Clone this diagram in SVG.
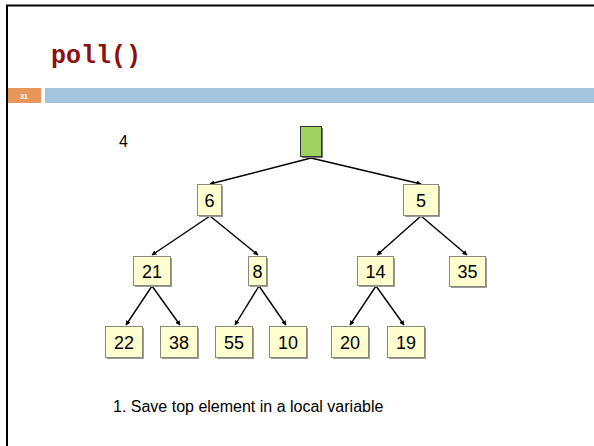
<svg xmlns="http://www.w3.org/2000/svg" width="594" height="446" viewBox="0 0 594 446">
<defs>
<style>
.nd{fill:#ffffd0;stroke:#8a8a7a;stroke-width:1}
.sh{fill:#9a9a9a}
.lbl{font-family:"Liberation Sans",Arial,sans-serif;font-size:18px;fill:#000;text-anchor:middle}
.edge{stroke:#000;stroke-width:1.4;fill:none;marker-end:url(#ah)}
</style>
<marker id="ah" viewBox="0 0 10 10" refX="9" refY="5" markerWidth="5" markerHeight="5" orient="auto" markerUnits="userSpaceOnUse">
<path d="M0,0 L10,5 L0,10 z" fill="#000"/>
</marker>
</defs>
<rect x="0" y="0" width="594" height="446" fill="#fff"/>
<path d="M7,446 V5.5 H594" fill="none" stroke="#000" stroke-width="2"/>
<text x="51" y="63" font-family="'Courier New','Liberation Mono',monospace" font-weight="bold" font-size="25" fill="#8b1010">poll()</text>
<rect x="8" y="88" width="33" height="15" fill="#e8955a"/>
<text x="24" y="99" font-family="'Liberation Sans',Arial,sans-serif" font-weight="bold" font-size="7" fill="#fff" text-anchor="middle">31</text>
<rect x="45" y="88" width="549" height="15" fill="#a4c3dc"/>
<text x="119" y="147" font-family="'Liberation Sans',Arial,sans-serif" font-size="16" fill="#000">4</text>
<g id="edges">
<line class="edge" x1="311" y1="158" x2="210" y2="184"/>
<line class="edge" x1="311" y1="158" x2="421" y2="184"/>
<line class="edge" x1="210" y1="216" x2="152" y2="255"/>
<line class="edge" x1="210" y1="216" x2="258" y2="255"/>
<line class="edge" x1="421" y1="216" x2="377" y2="255"/>
<line class="edge" x1="421" y1="216" x2="467" y2="255"/>
<line class="edge" x1="152" y1="286" x2="126" y2="325"/>
<line class="edge" x1="152" y1="286" x2="180" y2="325"/>
<line class="edge" x1="259" y1="286" x2="235" y2="325"/>
<line class="edge" x1="259" y1="286" x2="286" y2="325"/>
<line class="edge" x1="376" y1="286" x2="350" y2="325"/>
<line class="edge" x1="376" y1="286" x2="404" y2="325"/>
</g>
<g id="root">
<rect x="302" y="128" width="21" height="30" fill="#777"/>
<rect x="300.5" y="126.5" width="21" height="30" fill="#9dd35e" stroke="#333" stroke-width="1"/>
</g>
<g id="n6"><rect class="sh" x="199" y="186" width="24" height="31"/><rect class="nd" x="197.5" y="184.5" width="24" height="31"/><text class="lbl" x="209.5" y="206.5">6</text></g>
<g id="n5"><rect class="sh" x="405" y="186" width="35" height="31"/><rect class="nd" x="403.5" y="184.5" width="35" height="31"/><text class="lbl" x="421" y="206.5">5</text></g>
<g id="n21"><rect class="sh" x="135" y="258" width="37" height="29"/><rect class="nd" x="133.5" y="256.5" width="37" height="29"/><text class="lbl" x="152" y="277.5">21</text></g>
<g id="n8"><rect class="sh" x="250" y="258" width="18" height="29"/><rect class="nd" x="248.5" y="256.5" width="18" height="29"/><text class="lbl" x="257.5" y="277.5">8</text></g>
<g id="n14"><rect class="sh" x="359" y="258" width="36" height="29"/><rect class="nd" x="357.5" y="256.5" width="36" height="29"/><text class="lbl" x="375.5" y="277.5">14</text></g>
<g id="n35"><rect class="sh" x="451" y="258" width="36" height="30"/><rect class="nd" x="449.5" y="256.5" width="36" height="30"/><text class="lbl" x="467.5" y="278">35</text></g>
<g id="n22"><rect class="sh" x="107" y="328" width="37" height="31"/><rect class="nd" x="105.5" y="326.5" width="37" height="31"/><text class="lbl" x="124" y="348.5">22</text></g>
<g id="n38"><rect class="sh" x="162" y="328" width="37" height="31"/><rect class="nd" x="160.5" y="326.5" width="37" height="31"/><text class="lbl" x="179" y="348.5">38</text></g>
<g id="n55"><rect class="sh" x="217" y="328" width="37" height="31"/><rect class="nd" x="215.5" y="326.5" width="37" height="31"/><text class="lbl" x="234" y="348.5">55</text></g>
<g id="n10"><rect class="sh" x="271" y="328" width="37" height="31"/><rect class="nd" x="269.5" y="326.5" width="37" height="31"/><text class="lbl" x="288" y="348.5">10</text></g>
<g id="n20"><rect class="sh" x="333" y="328" width="37" height="31"/><rect class="nd" x="331.5" y="326.5" width="37" height="31"/><text class="lbl" x="350" y="348.5">20</text></g>
<g id="n19"><rect class="sh" x="389" y="328" width="37" height="31"/><rect class="nd" x="387.5" y="326.5" width="37" height="31"/><text class="lbl" x="406" y="348.5">19</text></g>
<text x="113" y="412" font-family="'Liberation Sans',Arial,sans-serif" font-size="16" fill="#000">1. Save top element in a local variable</text>
</svg>
